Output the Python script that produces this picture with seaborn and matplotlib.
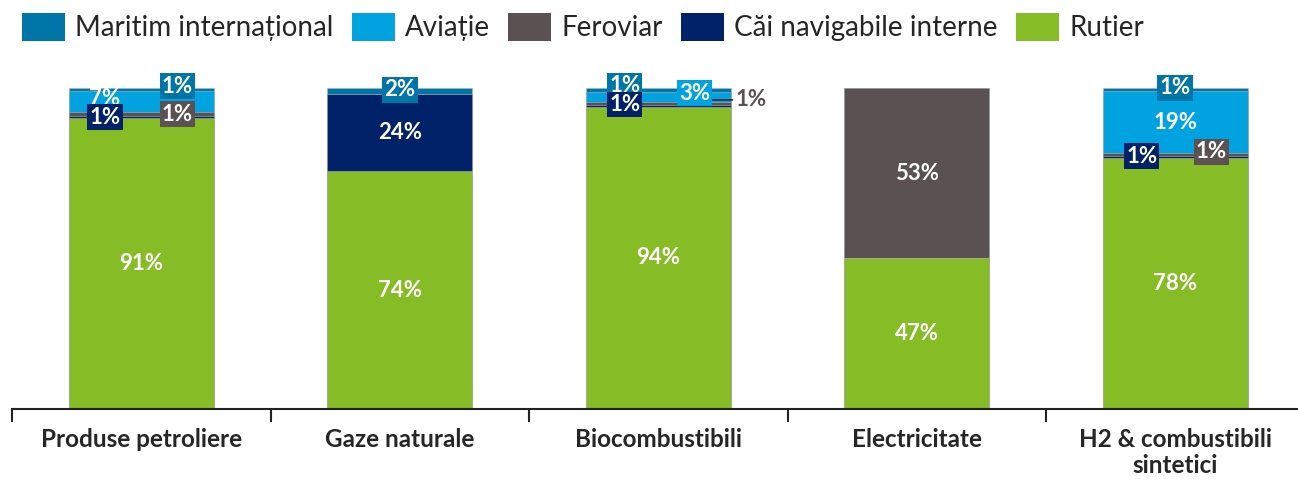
import numpy as np
import pandas as pd
import seaborn as sns
import matplotlib.pyplot as plt
from matplotlib.patches import Patch

# data (share of each transport mode in final consumption per fuel, %)
categories = ["Produse petroliere", "Gaze naturale", "Biocombustibili",
              "Electricitate", "H2 & combustibili\nsintetici"]
rutier = [90.8, 74.0, 94.2, 47.0, 78.2]
cai_navigabile = [0.6, 24.0, 0.6, 0.0, 0.6]
feroviar = [1.0, 0.0, 0.7, 53.0, 0.8]
aviatie = [6.8, 0.0, 3.2, 0.0, 19.4]
maritim = [0.8, 2.0, 1.3, 0.0, 1.0]

# bottom -> top
series = ["Rutier", "Căi navigabile interne", "Feroviar", "Aviație", "Maritim internațional"]
values = [rutier, cai_navigabile, feroviar, aviatie, maritim]
colors = {"Rutier": "#86BC25", "Căi navigabile interne": "#012169",
          "Feroviar": "#5B5152", "Aviație": "#00A3E0",
          "Maritim internațional": "#0076A8"}
legend_order = ["Maritim internațional", "Aviație", "Feroviar",
                "Căi navigabile interne", "Rutier"]

# label placement for the thin segments: (mode, dx, y)
place = {
    ("Căi navigabile interne", 0): ("box", -0.14, 90.9),
    ("Căi navigabile interne", 2): ("box", -0.13, 94.8),
    ("Căi navigabile interne", 4): ("box", -0.13, 78.8),
    ("Feroviar", 0): ("box", 0.14, 91.9),
    ("Feroviar", 2): ("out", 0.30, 96.3),
    ("Feroviar", 4): ("box", 0.14, 80.1),
    ("Aviație", 0): ("plain", -0.14, 96.8),
    ("Aviație", 2): ("box", 0.14, 98.4),
    ("Maritim internațional", 0): ("box", 0.14, 100.6),
    ("Maritim internațional", 1): ("box", 0.0, 99.4),
    ("Maritim internațional", 2): ("box", -0.13, 100.8),
    ("Maritim internațional", 4): ("box", 0.0, 100.0),
}

sns.set_style("white")
plt.rcParams["font.family"] = ["Lato", "DejaVu Sans"]

fig = plt.figure(figsize=(12.98, 4.83), dpi=100)
ax = fig.add_axes([12 / 1298, 74 / 483, 1292.5 / 1298, 321 / 483])

df = pd.DataFrame({"Categorie": categories})
for name, vals in zip(series, values):
    df[name] = vals
cum = df[series].cumsum(axis=1)

# stacked bars: draw cumulative totals from the top layer down
for name in reversed(series):
    sns.barplot(x=df["Categorie"], y=cum[name], color=colors[name], width=0.56,
                saturation=1, errorbar=None, edgecolor="#b4b4b4", linewidth=0.4, ax=ax)

ax.set_ylim(0, 100)
ax.set_xlim(-0.5, 4.5)
ax.set_ylabel("")
ax.set_xlabel("")
ax.set_yticks([])
for s in ["top", "left", "right"]:
    ax.spines[s].set_visible(False)
ax.spines["bottom"].set_linewidth(1.5)
ax.spines["bottom"].set_color("#222222")

ax.set_xticks(np.arange(-0.5, 5, 1))
ax.set_xticklabels([])
ax.set_xticks(range(5), minor=True)
ax.set_xticklabels(categories, minor=True, fontsize=17.5, fontweight="bold",
                   va="top", linespacing=1.15)
ax.tick_params(axis="x", which="major", bottom=True, length=9, width=1.5,
               color="#222222", direction="out")
ax.tick_params(axis="x", which="minor", bottom=True, length=0, pad=14)

# value labels (top series first so lower series' boxes sit on top)
for name in reversed(series):
    vals = df[name].values
    lower = cum[name].values - vals
    for i, v in enumerate(vals):
        if v <= 0:
            continue
        txt = f"{round(v)}%"
        mode, dx, y = place.get((name, i), ("plain", 0.0, lower[i] + v / 2))
        if mode == "plain":
            ax.text(i + dx, y, txt, ha="center", va="center", color="white",
                    fontsize=16, fontweight="bold", zorder=5)
        elif mode == "box":
            ax.text(i + dx, y, txt, ha="center", va="center", color="white",
                    fontsize=16, fontweight="bold", zorder=5,
                    bbox=dict(boxstyle="square,pad=0.1", fc=colors[name], ec="none"))
        else:
            ax.annotate(txt, xy=(i + 0.21, y), xytext=(i + dx, y), ha="left", va="center",
                        color=colors[name], fontsize=16, fontweight="bold",
                        arrowprops=dict(arrowstyle="-", color="#222222", lw=1.2,
                                        shrinkA=0, shrinkB=0), zorder=4)

handles = [Patch(facecolor=colors[n], edgecolor="none") for n in legend_order]
fig.legend(handles, legend_order, loc="center left", bbox_to_anchor=(22 / 1298, 1 - 27 / 483),
           ncol=5, frameon=False, fontsize=20, handlelength=1.55, handleheight=1.18,
           handletextpad=0.37, columnspacing=0.65, borderaxespad=0, borderpad=0)

fig.savefig("out.png", dpi=100)
